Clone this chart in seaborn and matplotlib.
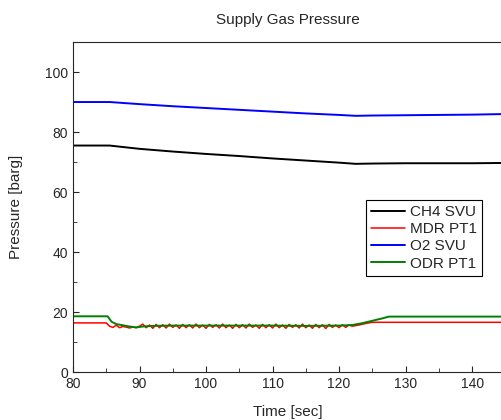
import pandas as pd
import matplotlib.pyplot as plt
import seaborn as sns
from matplotlib.ticker import MultipleLocator

sns.set_style("ticks")
plt.rcParams['font.family'] = ['Liberation Sans', 'DejaVu Sans']

# ---- data ----
t_ch4 = [80, 85.5, 90, 95, 100, 105, 110, 115, 120, 122.5, 125, 130, 135, 140, 145]
ch4_svu = [75.5, 75.5, 74.4, 73.5, 72.7, 72.0, 71.2, 70.5, 69.8, 69.4, 69.5, 69.6, 69.6, 69.6, 69.7]

t_o2 = [80, 85.5, 90, 95, 100, 105, 110, 115, 120, 122.5, 125, 130, 135, 140, 145]
o2_svu = [90.0, 90.0, 89.3, 88.6, 88.0, 87.4, 86.8, 86.2, 85.7, 85.4, 85.5, 85.6, 85.7, 85.8, 86.0]

t_mdr = [80, 85.0, 85.5,
         86.0, 86.5, 87.0, 87.5, 88.0, 88.5, 89.0, 89.5, 90.0, 90.5,
         91.0, 91.5, 92.0, 92.5, 93.0, 93.5, 94.0, 94.5, 95.0, 95.5,
         96.0, 96.5, 97.0, 97.5, 98.0, 98.5, 99.0, 99.5, 100.0, 100.5,
         101.0, 101.5, 102.0, 102.5, 103.0, 103.5, 104.0, 104.5, 105.0, 105.5,
         106.0, 106.5, 107.0, 107.5, 108.0, 108.5, 109.0, 109.5, 110.0, 110.5,
         111.0, 111.5, 112.0, 112.5, 113.0, 113.5, 114.0, 114.5, 115.0, 115.5,
         116.0, 116.5, 117.0, 117.5, 118.0, 118.5, 119.0, 119.5, 120.0, 120.5,
         121.0, 121.5, 122.0,
         123.0, 124.0, 125.0, 145]
mdr_pt1 = [16.4, 16.4, 15.3,
           14.9, 15.6, 14.8, 15.2, 15.0, 14.7, 15.0, 14.8, 15.3, 16.0,
           14.8, 15.7, 14.6, 15.9, 14.8, 15.8, 14.7, 16.0, 14.9, 15.7,
           14.6, 15.9, 14.8, 15.8, 14.7, 16.0, 14.8, 15.7, 14.6, 15.9,
           14.9, 15.8, 14.7, 16.0, 14.8, 15.7, 14.6, 15.9, 14.8, 15.8,
           14.7, 16.0, 14.9, 15.7, 14.6, 15.9, 14.8, 15.8, 14.7, 16.0,
           14.8, 15.7, 14.6, 15.9, 14.9, 15.8, 14.7, 16.0, 14.8, 15.7,
           14.6, 15.9, 14.8, 15.8, 14.5, 15.9, 14.9, 15.7, 14.8, 15.8,
           14.9, 15.7, 15.3,
           15.7, 16.2, 16.6, 16.6]

t_odr = [80, 85.2, 85.8, 86.5, 87.5, 88.5, 89.5, 90.5, 92, 95, 100, 105, 110,
         115, 120, 122, 123.5, 125, 126.5, 127.5, 145]
odr_pt1 = [18.6, 18.6, 16.8, 16.0, 15.6, 15.2, 14.9, 15.2, 15.4, 15.5, 15.5, 15.5, 15.5,
           15.4, 15.5, 15.7, 16.3, 17.1, 17.9, 18.5, 18.5]

series = [
    ("CH4 SVU", t_ch4, ch4_svu, "#000000", 1.4),
    ("MDR PT1", t_mdr, mdr_pt1, "#ff0000", 1.1),
    ("O2 SVU", t_o2, o2_svu, "#0000ff", 1.4),
    ("ODR PT1", t_odr, odr_pt1, "#008000", 1.4),
]

fig = plt.figure(figsize=(5.02, 4.2), dpi=100)
# the original export cuts the axes off at the right edge
ax = fig.add_axes([0.1454, 0.114, 0.8546, 0.786])

for name, t, v, c, lw in series:
    df = pd.DataFrame({"t": t, "v": v})
    sns.lineplot(data=df, x="t", y="v", ax=ax, color=c, linewidth=lw,
                 label=name, estimator=None, sort=False)

ax.set_xlim(80, 144.5)
ax.set_ylim(0, 110)
ax.xaxis.set_major_locator(MultipleLocator(10))
ax.xaxis.set_minor_locator(MultipleLocator(5))
ax.yaxis.set_major_locator(MultipleLocator(20))
ax.yaxis.set_minor_locator(MultipleLocator(10))
ax.tick_params(which="both", direction="in", top=False, right=False, labelsize=10)
ax.tick_params(which="major", length=4)
ax.tick_params(which="minor", length=3)
ax.spines["right"].set_visible(False)

ax.set_title("Supply Gas Pressure", fontsize=11, pad=13)
ax.set_xlabel("Time [sec]", fontsize=11, labelpad=10)
ax.set_ylabel("Pressure [barg]", fontsize=11, labelpad=16)

leg = ax.legend(loc="upper left", bbox_to_anchor=(366 / 502, 1 - 200 / 420),
                bbox_transform=fig.transFigure, borderaxespad=0, fontsize=11,
                frameon=True, fancybox=False, framealpha=1, edgecolor="black",
                handlelength=2.2, handletextpad=0.3, borderpad=0.35,
                labelspacing=0.2)
leg.get_frame().set_linewidth(0.8)

plt.savefig("out.png", dpi=100)
plt.close()
